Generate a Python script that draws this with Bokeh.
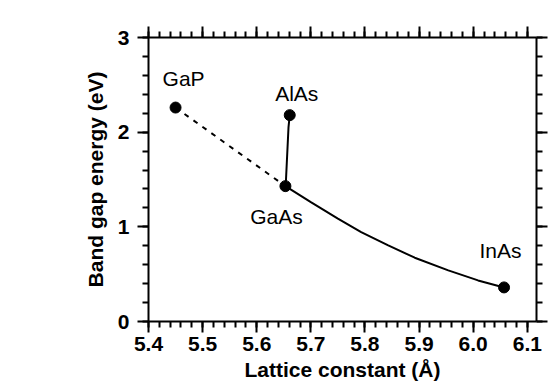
from bokeh.plotting import figure
from bokeh.models import (Range1d, LinearAxis, FixedTicker, PrintfTickFormatter,
                          CustomJSTickFormatter, ColumnDataSource)
from bokeh.core.properties import value
from bokeh.embed import file_html
from bokeh.resources import INLINE

# --- data ---
compounds = ["GaP", "AlAs", "GaAs", "InAs"]
lattice = [5.450, 5.661, 5.653, 6.057]
gap = [2.26, 2.18, 1.43, 0.36]

# GaP - GaAs (dashed)
gap_gaas_x = [5.450, 5.653]
gap_gaas_y = [2.26, 1.43]

# AlAs - GaAs (AlGaAs)
algaas_x = [5.661, 5.6587, 5.6535]
algaas_y = [2.18, 2.05, 1.43]

# GaAs - InAs (InGaAs)
ingaas_x = [5.653, 5.700, 5.750, 5.793, 5.843, 5.892, 5.954, 6.009, 6.057]
ingaas_y = [1.43, 1.262, 1.087, 0.945, 0.804, 0.674, 0.540, 0.434, 0.36]

x_ticks = [5.4, 5.5, 5.6, 5.7, 5.8, 5.9, 6.0, 6.1]
x_minor = [round(5.4 + 0.02 * i, 2) for i in range(37)]
y_ticks = [0, 1, 2, 3]
y_minor = [round(0.2 * i, 1) for i in range(16)]

# label offsets (pixels) relative to each point
label_dx = [8, 7, -9, -3.5]
label_dy = [-29.5, -21.5, 30, -36.5]

FONT = "Liberation Sans"

p = figure(width=557, height=388, output_backend="svg", toolbar_location=None,
           x_range=Range1d(5.4, 6.117), y_range=Range1d(0, 3),
           x_axis_type=None, y_axis_type=None,
           min_border_left=148, min_border_right=21,
           min_border_top=37, min_border_bottom=67)
p.outline_line_color = None
p.xgrid.visible = False
p.ygrid.visible = False
p.background_fill_color = "white"
p.border_fill_color = "white"


def style_axis(ax, ticks, minor, show_labels):
    ax.ticker = FixedTicker(ticks=ticks, minor_ticks=minor)
    ax.axis_line_width = 2
    ax.axis_line_color = "black"
    ax.major_tick_line_width = 2
    ax.minor_tick_line_width = 2
    ax.major_tick_out = 11
    ax.major_tick_in = 0
    ax.minor_tick_out = 6
    ax.minor_tick_in = 0
    ax.major_label_text_font = FONT
    ax.major_label_text_font_style = "bold"
    ax.major_label_text_color = "black"
    ax.axis_label_text_color = "black"
    if not show_labels:
        ax.formatter = CustomJSTickFormatter(code="return ''")
        ax.major_label_standoff = 0


xb = LinearAxis(axis_label="Lattice constant (Å)")
style_axis(xb, x_ticks, x_minor, True)
xb.formatter = PrintfTickFormatter(format="%.1f")
xb.major_label_text_font_size = "21px"
xb.major_label_standoff = 4
xb.axis_label_text_font = FONT
xb.axis_label_text_font_size = "21px"
xb.axis_label_text_font_style = "bold"
xb.axis_label_standoff = 4
p.add_layout(xb, "below")

yl = LinearAxis(axis_label="Band gap energy (eV)")
style_axis(yl, y_ticks, y_minor, True)
yl.formatter = PrintfTickFormatter(format="%d")
yl.major_label_text_font_size = "21px"
yl.major_label_standoff = 8
yl.axis_label_text_font = FONT
yl.axis_label_text_font_size = "21px"
yl.axis_label_text_font_style = "bold"
yl.axis_label_standoff = 8
p.add_layout(yl, "left")

xt = LinearAxis()
style_axis(xt, x_ticks, x_minor, False)
p.add_layout(xt, "above")

yr = LinearAxis()
style_axis(yr, y_ticks, y_minor, False)
p.add_layout(yr, "right")

p.line(gap_gaas_x, gap_gaas_y, line_color="black", line_width=2, line_dash="5 6")
p.line(algaas_x, algaas_y, line_color="black", line_width=2)
p.line(ingaas_x, ingaas_y, line_color="black", line_width=2)

src = ColumnDataSource(dict(x=lattice, y=gap, name=compounds, dx=label_dx, dy=label_dy))
p.scatter("x", "y", source=src, size=11, color="black")
p.text("x", "y", text="name", source=src, x_offset="dx", y_offset="dy",
       text_font=value(FONT), text_font_size="21px", text_align="center",
       text_baseline="alphabetic", text_color="black")

open("out.html", "w").write(file_html(p, INLINE))
